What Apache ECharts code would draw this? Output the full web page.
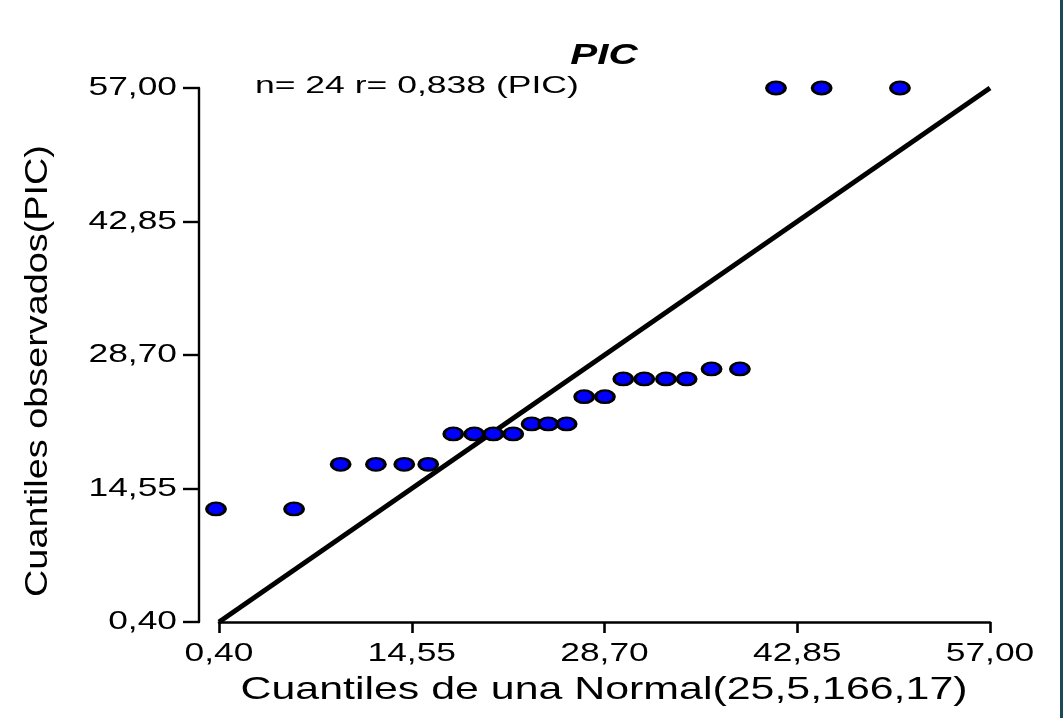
<!DOCTYPE html>
<html>
<head>
<meta charset="utf-8">
<script src="https://cdn.jsdelivr.net/npm/echarts@6/dist/echarts.min.js"></script>
<style>html,body{margin:0;padding:0;background:#fff}#c{width:1063px;height:718px}</style>
</head>
<body>
<div id="c"></div>
<script>
// Theoretical normal quantiles (x) and observed quantiles (y) of PIC
var normalQuantiles = [0.18, 5.91, 9.33, 11.92, 14.00, 15.76, 17.60, 19.14, 20.54, 22.00, 23.35, 24.57,
  25.92, 27.21, 28.73, 30.08, 31.62, 33.21, 34.73, 36.56, 38.64, 41.29, 44.64, 50.39];
var observedQuantiles = [12.38, 12.38, 17.11, 17.11, 17.11, 17.11, 20.33, 20.33, 20.33, 20.33, 21.39, 21.39,
  21.39, 24.28, 24.28, 26.16, 26.16, 26.16, 26.16, 27.22, 27.22, 57.00, 57.00, 57.00];
var refLine = [[0.40, 0.40], [57.00, 57.00]];
var tickValues = [0.40, 14.55, 28.70, 42.85, 57.00];
var titleText = 'PIC';
var annotText = 'n= 24 r= 0,838 (PIC)';
var xName = 'Cuantiles de una Normal(25,5,166,17)';
var yName = 'Cuantiles observados(PIC)';

var points = normalQuantiles.map(function (x, i) { return [x, observedQuantiles[i]]; });
var fmt = function (v) { return Number(v).toFixed(2).replace('.', ','); };
var FONT = '"Liberation Sans", Arial, sans-serif';

var chart = echarts.init(document.getElementById('c'), null, {renderer: 'canvas'});
chart.setOption({
  backgroundColor: '#ffffff',
  animation: false,
  grid: {left: 219, right: 73, top: 88, bottom: 96, containLabel: false},
  xAxis: {
    type: 'value', min: 0.40, max: 57.00,
    axisLine: {show: true, onZero: false, lineStyle: {color: '#000', width: 2.6}},
    axisTick: {show: true, length: 11, customValues: tickValues, lineStyle: {color: '#000', width: 2.6}},
    axisLabel: {show: false, customValues: tickValues},
    splitLine: {show: false}
  },
  yAxis: {
    type: 'value', min: 0.40, max: 57.00, offset: 20,
    axisLine: {show: true, onZero: false, lineStyle: {color: '#000', width: 2.4}},
    axisTick: {show: true, length: 16, customValues: tickValues, lineStyle: {color: '#000', width: 2.4}},
    axisLabel: {show: false, customValues: tickValues},
    splitLine: {show: false}
  },
  series: [
    {type: 'line', data: refLine, symbol: 'none', lineStyle: {color: '#000', width: 5}, z: 2, silent: true},
    {type: 'scatter', data: points, symbol: 'circle', symbolSize: [18.5, 12.5], clip: false,
      itemStyle: {color: '#0000ff', borderColor: '#000', borderWidth: 2.8, opacity: 1}, z: 3}
  ]
});

// Tick labels placed through the axes' own scales (stretched text like the original)
var gfx = [];
tickValues.forEach(function (v) {
  var px = chart.convertToPixel({xAxisIndex: 0}, v);
  gfx.push({type: 'text', x: px, y: 654, scaleX: 1.36,
    style: {text: fmt(v), font: '26px ' + FONT, fill: '#000', align: 'center', verticalAlign: 'middle'}});
  var py = chart.convertToPixel({yAxisIndex: 0}, v);
  gfx.push({type: 'text', x: 177, y: py, scaleX: 1.36,
    style: {text: fmt(v), font: '26px ' + FONT, fill: '#000', align: 'right', verticalAlign: 'middle'}});
});
gfx.push({type: 'text', x: 604, y: 56, scaleX: 1.35,
  style: {text: titleText, font: 'italic bold 30px ' + FONT, fill: '#000', align: 'center', verticalAlign: 'middle'}});
gfx.push({type: 'text', x: 255, y: 86, scaleX: 1.48,
  style: {text: annotText, font: '24px ' + FONT, fill: '#000', align: 'left', verticalAlign: 'middle'}});
gfx.push({type: 'text', x: 604, y: 690, scaleX: 1.34,
  style: {text: xName, font: '32px ' + FONT, fill: '#000', align: 'center', verticalAlign: 'middle'}});
gfx.push({type: 'text', x: 38, y: 371, rotation: Math.PI / 2, scaleX: 1.22,
  style: {text: yName, font: '31px ' + FONT, fill: '#000', align: 'center', verticalAlign: 'middle'}});
gfx.push({type: 'rect', shape: {x: 1060, y: 0, width: 3, height: 718}, style: {fill: '#1d4a5a'}});
chart.setOption({graphic: gfx});
</script>
</body>
</html>
